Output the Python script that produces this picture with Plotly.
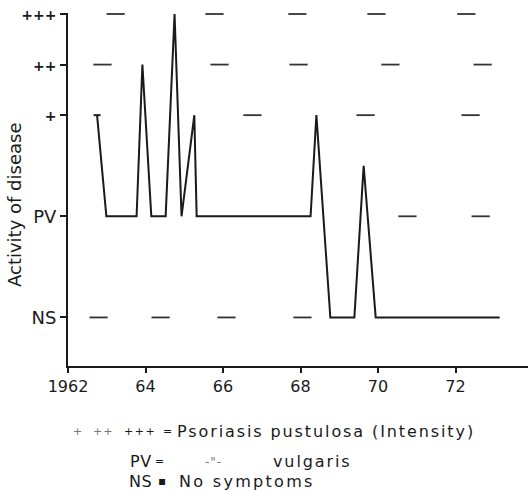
import plotly.graph_objects as go

# Disease activity levels (numeric scale): NS=0, PV=2, +=4, ++=5, +++=6
level_vals = [0, 2, 4, 5, 6]
level_text = ["NS", "PV", "+", "++", "+++"]

# Course of disease
years = [1962.75, 1962.99, 1963.77, 1963.92, 1964.15, 1964.52, 1964.75, 1964.93,
         1965.26, 1965.32, 1968.26, 1968.41, 1968.77, 1969.39, 1969.63, 1969.94, 1973.14]
activity = [4, 2, 2, 5, 2, 2, 6, 2, 4, 2, 2, 4, 0, 0, 3, 0, 0]

# Short reference dashes per level
dash_years = [1963.23, 1965.78, 1967.92, 1969.96, 1972.28,
              1962.89, 1965.91, 1967.95, 1970.32, 1972.70,
              1966.76, 1969.68, 1972.39,
              1970.76, 1972.65,
              1962.79, 1964.39, 1966.09, 1968.05]
dash_levels = [6, 6, 6, 6, 6,
               5, 5, 5, 5, 5,
               4, 4, 4,
               2, 2,
               0, 0, 0, 0]

x_ticks = [1962, 1964, 1966, 1968, 1970, 1972]
x_tick_text = ["1962", "64", "66", "68", "70", "72"]

W, H = 530, 492
L, R, T, B = 68, 2, 13, 126
PW, PH = W - L - R, H - T - B

def px(x):
    return (x - L) / PW

def py(y):
    return 1 - (y - T) / PH

FONT = "DejaVu Sans"
INK = "#1a1a1a"

def small(t):
    return "<span style='font-size:14px'><b>%s</b></span>" % t if "+" in t else t

fig = go.Figure()
fig.add_trace(go.Scatter(
    x=dash_years, y=dash_levels, mode="markers",
    marker=dict(symbol="line-ew", size=13, line=dict(width=1.8, color="#333333")),
    hoverinfo="skip", showlegend=False))
fig.add_trace(go.Scatter(
    x=years, y=activity, mode="lines",
    line=dict(color=INK, width=2), showlegend=False))
fig.add_trace(go.Scatter(
    x=years[:1], y=activity[:1], mode="markers",
    marker=dict(symbol="line-ew", size=5, line=dict(width=2, color=INK)),
    showlegend=False, hoverinfo="skip"))

fig.update_xaxes(range=[1962, 1962 + PW / 38.75], showline=True, linecolor=INK, linewidth=2,
                 ticks="outside", ticklen=5, tickwidth=2, tickcolor=INK,
                 tickvals=x_ticks, ticktext=x_tick_text, showgrid=False, zeroline=False,
                 tickfont=dict(family=FONT, size=16, color=INK))
fig.update_yaxes(range=[-0.96, 6.02], showline=True, linecolor=INK, linewidth=2,
                 ticks="outside", ticklen=6, tickwidth=2, tickcolor=INK,
                 tickvals=level_vals, ticktext=[small(t) for t in level_text],
                 showgrid=False, zeroline=False,
                 tickfont=dict(family=FONT, size=18, color=INK))

ann = []
ann.append(dict(text="Activity of disease", x=px(14), y=py(205), xref="paper", yref="paper",
                textangle=-90, showarrow=False, xanchor="center", yanchor="middle",
                font=dict(family=FONT, size=18, color=INK)))

def spaced(t, sp):
    return "<span style='letter-spacing:%.1fpx'>%s</span>" % (sp, t)

legend_rows = [
    ("+", 71, 431, 11, 0, "#777777"),
    ("++", 91, 431, 11, 1.0, "#777777"),
    ("+++", 122, 431, 11, 1.5, INK),
    ("=", 161, 431, 11, 0, INK),
    ("Psoriasis pustulosa (Intensity)", 175, 431, 16, 1.9, INK),
    ("PV", 128, 462, 16, 0.5, INK),
    ("=", 153, 462, 11, 0, INK),
    ("-\"-", 203, 462, 12, 1.0, "#777777"),
    ("vulgaris", 271, 462, 16, 1.9, INK),
    ("NS", 127, 481, 16, 0.5, INK),
    ("\u25aa", 156, 481, 12, 0, INK),
    ("No symptoms", 177, 481, 16, 2.3, INK),
]
for txt, x, y, s, sp, col in legend_rows:
    ann.append(dict(text=spaced(txt, sp) if sp else txt, x=px(x), y=py(y),
                    xref="paper", yref="paper",
                    showarrow=False, xanchor="left", yanchor="middle",
                    font=dict(family=FONT, size=s, color=col)))

fig.update_layout(width=W, height=H, margin=dict(l=L, r=R, t=T, b=B),
                  plot_bgcolor="white", paper_bgcolor="white", annotations=ann)
fig.write_html("out.html")
